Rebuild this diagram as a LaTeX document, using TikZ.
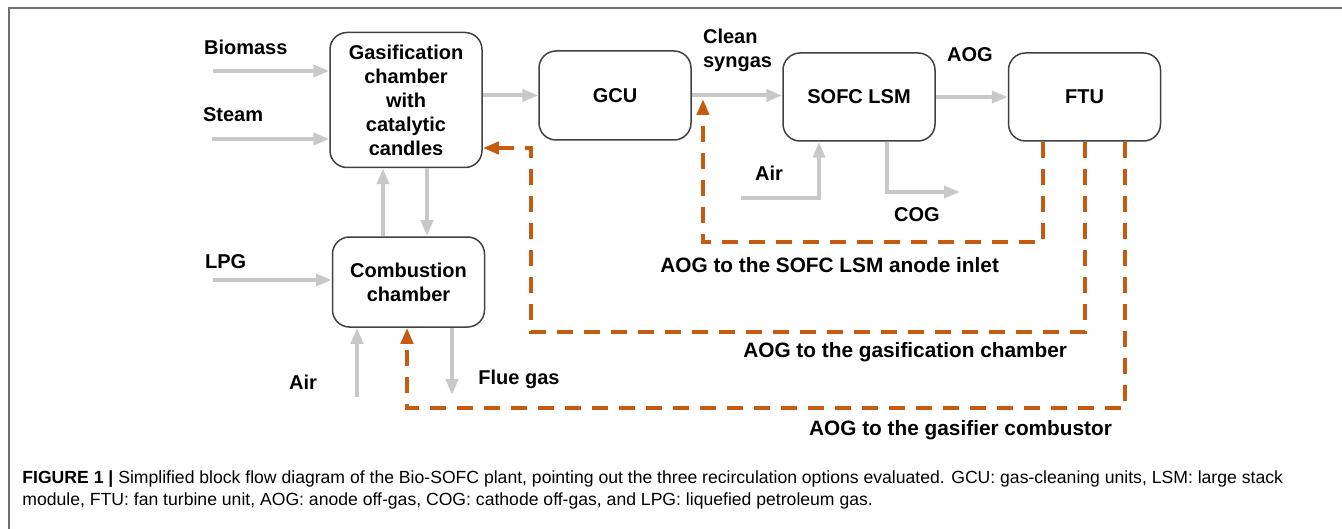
\documentclass[tikz,border=0pt]{standalone}
\usepackage{fontspec}
\setmainfont{Liberation Sans}
\usetikzlibrary{arrows.meta}
\definecolor{flowgray}{RGB}{200,200,200}
\definecolor{aogorange}{RGB}{197,90,17}
\definecolor{boxline}{RGB}{64,64,64}
\definecolor{framegray}{RGB}{110,110,110}

\begin{document}
\begin{tikzpicture}[x=0.5pt, y=-0.5pt,
  every node/.style={font=\bfseries\fontsize{10}{12}\selectfont},
  unit/.style={draw=boxline, line width=0.75pt, rounded corners=8.5pt, minimum width=76pt, align=center, inner sep=2pt},
  flow/.style={draw=flowgray, line width=2pt, -{Triangle[length=8pt,width=6pt]}},
  recyc/.style={draw=aogorange, line width=2pt, dash pattern=on 8pt off 5.5pt, -{Triangle[length=8pt,width=6pt]}},
  reclabel/.style={anchor=east, font=\bfseries\fontsize{10.4}{12}\selectfont}]
  \useasboundingbox (0,0) rectangle (1342,529);

  % Frame
  \draw[framegray, line width=1pt] (9,529) -- (9,8) -- (1342,8);

  % Units
  \node[unit, minimum height=67.5pt] (gasif) at (406,100) {Gasification\\chamber\\with\\catalytic\\candles};
  \node[unit, minimum height=44.5pt] (gcu) at (615,95.5) {GCU};
  \node[unit, minimum height=44pt] (sofc) at (859,97) {SOFC LSM};
  \node[unit, minimum height=44pt] (ftu) at (1084.5,97) {FTU};
  \node[unit, minimum height=45pt] (comb) at (408.5,282) {Combustion\\chamber};

  % Free ends
  \coordinate (biosrc) at (213,71);
  \coordinate (steamsrc) at (212,139);
  \coordinate (lpgsrc) at (213,280);
  \coordinate (airsrc) at (357,397);
  \coordinate (fluedst) at (452,395);
  \coordinate (airsofc) at (741,198);
  \coordinate (cogdst) at (960,192);
  \coordinate (mix) at (703,99);

  % Main streams
  \draw[flow] (biosrc) -- (biosrc -| gasif.west);
  \draw[flow] (steamsrc) -- (steamsrc -| gasif.west);
  \draw[flow] (gcu.west -| gasif.east) -- (gcu.west);
  \draw[flow] (gcu.east) -- (gcu.east -| sofc.west);
  \draw[flow] (sofc.east |- ftu.west) -- (ftu.west);
  \draw[flow] (comb.north -| 383,0) -- (gasif.south -| 383,0);
  \draw[flow] (gasif.south -| 427,0) -- (comb.north -| 427,0);
  \draw[flow] (lpgsrc) -- (lpgsrc -| comb.west);
  \draw[flow] (airsrc) -- (airsrc |- comb.south);
  \draw[flow] (comb.south -| fluedst) -- (fluedst);
  \draw[flow] (airsofc) -| ([xshift=-20pt]sofc.south);
  \draw[flow] ([xshift=14pt]sofc.south) |- (cogdst);

  % AOG recirculation
  \draw[recyc] ([xshift=-20.75pt]ftu.south) |- (703,242) -- (mix);
  \draw[recyc] (ftu.south) |- (531,332) |- (gasif.east |- 0,148);
  \draw[recyc] ([xshift=20.25pt]ftu.south) |- (407,408) -- (comb.south -| 407,0);

  % Stream labels
  \node[anchor=west] (lbio) at (197,47) {Biomass};
  \node[anchor=west] (lsteam) at (196,115) {Steam};
  \node[anchor=west] (llpg) at (198,262) {LPG};
  \node (lair) at (303,382) {Air};
  \node (lflue) at (519,379) {Flue gas};
  \node[anchor=west, align=left] (lsyngas) at (696,50) {Clean\\syngas};
  \node (laog) at (970,55) {AOG};
  \node (lairsofc) at (769,173) {Air};
  \node (lcog) at (917,215) {COG};
  \node[reclabel] (lrec1) at (1006,265) {AOG to the SOFC LSM anode inlet};
  \node[reclabel] (lrec2) at (1074,352) {AOG to the gasification chamber};
  \node[reclabel] (lrec3) at (1119,430) {AOG to the gasifier combustor};

  % Caption
  \node[anchor=west, align=left, inner sep=0pt, font=\fontsize{8.8}{11.3}\selectfont] (caption) at (22,490)
    {\textbf{FIGURE 1 |} Simplified block flow diagram of the Bio-SOFC plant, pointing out the three recirculation options evaluated. GCU: gas-cleaning units, LSM: large stack\\
     module, FTU: fan turbine unit, AOG: anode off-gas, COG: cathode off-gas, and LPG: liquefied petroleum gas.};
\end{tikzpicture}
\end{document}
